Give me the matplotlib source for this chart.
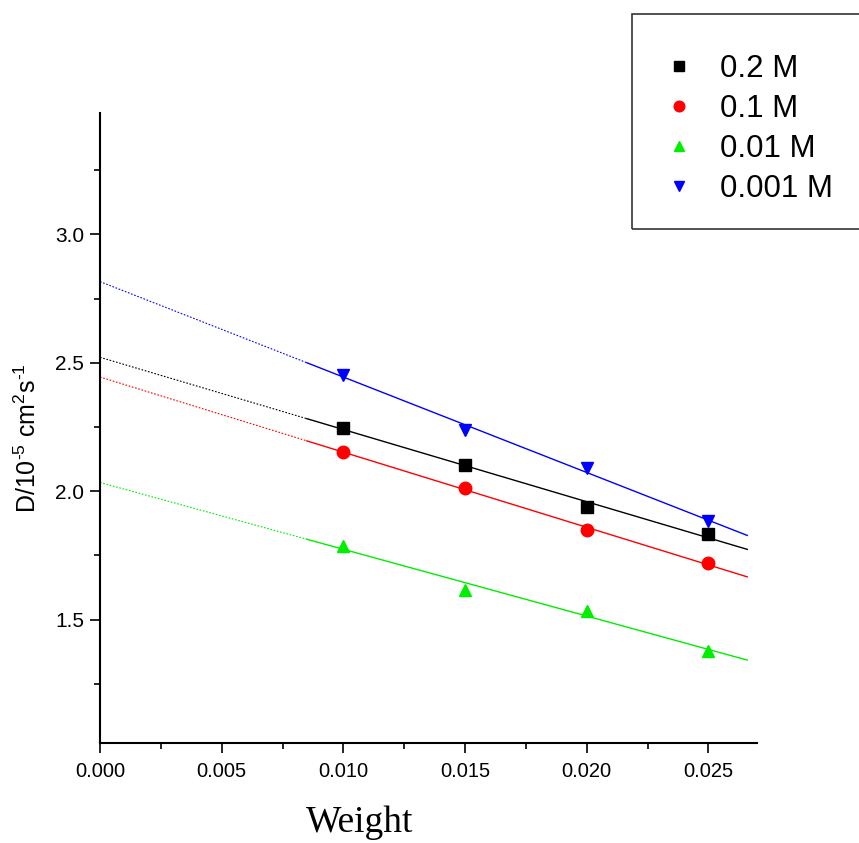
import numpy as np
import matplotlib
matplotlib.use("Agg")
import matplotlib.pyplot as plt
from matplotlib.patches import Rectangle
from matplotlib.ticker import MultipleLocator, FormatStrFormatter

plt.rcParams["mathtext.fontset"] = "custom"
plt.rcParams["mathtext.rm"] = "Liberation Sans"
plt.rcParams["mathtext.it"] = "Liberation Sans"
plt.rcParams["mathtext.bf"] = "Liberation Sans"

weight = [0.010, 0.015, 0.020, 0.025]
labels = ["0.2 M", "0.1 M", "0.01 M", "0.001 M"]
d_02 = [2.246, 2.102, 1.938, 1.832]
d_01 = [2.152, 2.012, 1.848, 1.719]
d_001 = [1.785, 1.617, 1.535, 1.379]
d_0001 = [2.453, 2.238, 2.090, 1.883]
series = [d_02, d_01, d_001, d_0001]
colors = ["#000000", "#ff0000", "#00ee00", "#0000ff"]
markers = ["s", "o", "^", "v"]

fig = plt.figure(figsize=(8.59, 8.43), dpi=100)
W, H = 859, 843
ax = fig.add_axes([100 / W, 1 - 743 / H, 657 / W, (743 - 113) / H])

xs_dot = np.linspace(0.0, 0.0085, 50)
xs_sol = np.linspace(0.0085, 0.0266, 50)
for ys, c, m, lab in zip(series, colors, markers, labels):
    k, b = np.polyfit(weight, ys, 1)
    ax.plot(xs_dot, k * xs_dot + b, color=c, lw=0.8, ls=(0, (1.5, 1.5)))
    ax.plot(xs_sol, k * xs_sol + b, color=c, lw=1.0)
    ax.plot(weight, ys, ls="none", marker=m, color=c, ms=9, label=lab)

ax.set_xlim(0.0, 0.0270)
ax.set_ylim(1.0195, 3.473)
for s in ["top", "right"]:
    ax.spines[s].set_visible(False)
for s in ["left", "bottom"]:
    ax.spines[s].set_linewidth(1.5)

ax.xaxis.set_major_locator(MultipleLocator(0.005))
ax.xaxis.set_minor_locator(MultipleLocator(0.0025))
ax.yaxis.set_major_locator(MultipleLocator(0.5))
ax.yaxis.set_minor_locator(MultipleLocator(0.25))
ax.xaxis.set_major_formatter(FormatStrFormatter("%.3f"))
ax.yaxis.set_major_formatter(FormatStrFormatter("%.1f"))
ax.set_yticks([1.5, 2.0, 2.5, 3.0])
ax.tick_params(which="major", direction="out", length=7.5, width=1.2)
ax.tick_params(which="minor", direction="out", length=4, width=1.2)
ax.tick_params(axis="y", labelsize=15, pad=4)
ax.tick_params(axis="x", labelsize=14.5, pad=6)
for t in ax.get_yticklabels() + ax.get_xticklabels():
    t.set_family(["Liberation Sans", "DejaVu Sans"])

fig.text(28 / W, 1 - 438 / H,
         r"D/10$^{\text{-5}}$ cm$^{\text{2}}$s$^{\text{-1}}$",
         fontsize=18, rotation=90, ha="center", va="center",
         family=["Liberation Sans", "DejaVu Sans"])
fig.text(360 / W, 1 - 823 / H, "Weight", fontsize=27, ha="center", va="center",
         family=["Liberation Serif", "DejaVu Serif"])

# legend frame (extends beyond right edge)
fig.patches.append(Rectangle((632 / W, 1 - 229 / H), 260 / W, 215 / H,
                             transform=fig.transFigure, fill=False,
                             edgecolor="#333333", lw=1.2))
leg = fig.legend(loc="upper left", bbox_to_anchor=(663 / W, 1 - 54 / H),
                 frameon=False, handletextpad=0.82, markerscale=0.85,
                 labelspacing=0.32, handlelength=1.0, borderaxespad=0,
                 borderpad=0,
                 prop={"family": ["Liberation Sans", "DejaVu Sans"], "size": 22.5})

fig.savefig("out.png", dpi=100)
